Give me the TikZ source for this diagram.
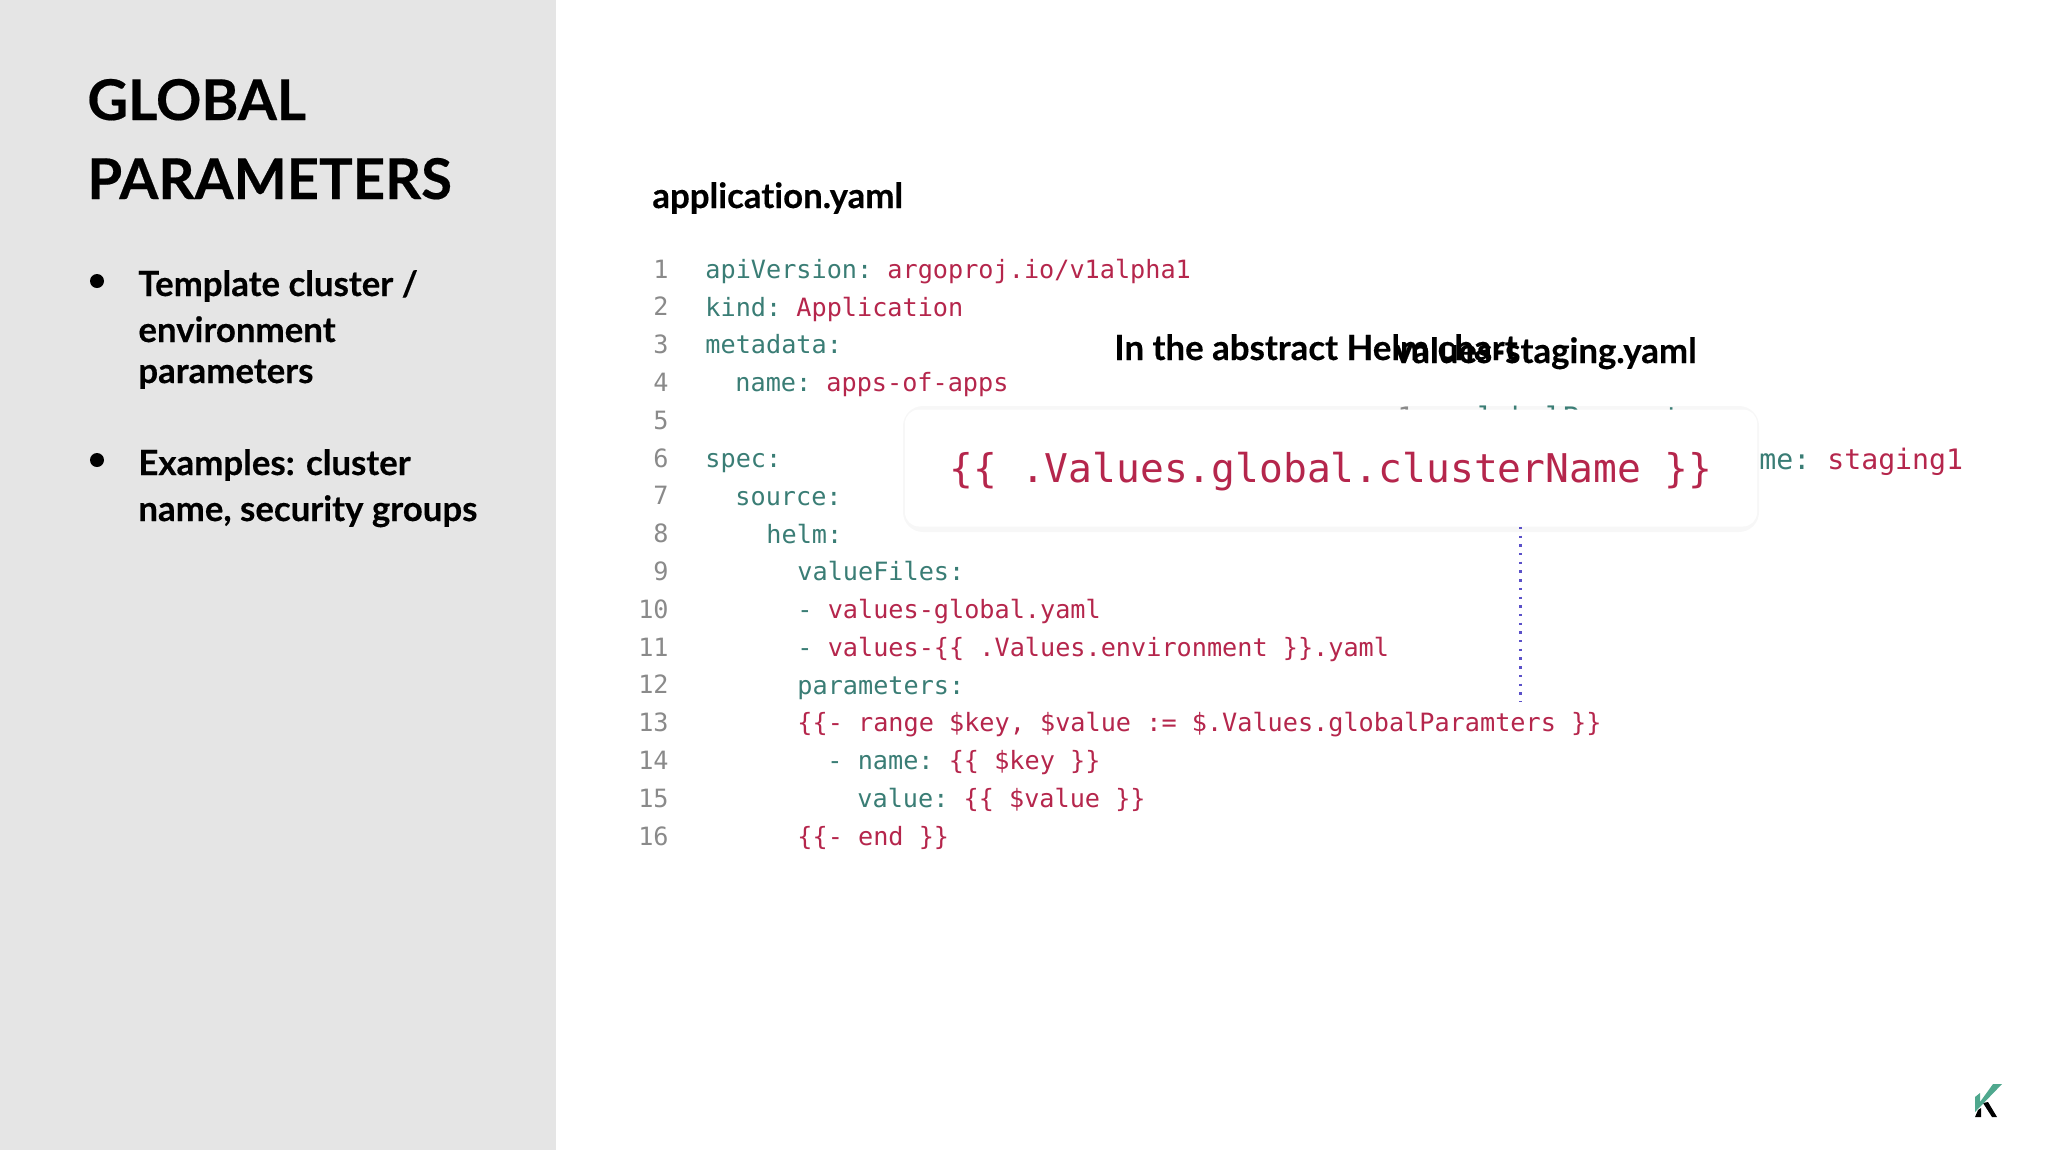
\documentclass[tikz,border=0pt]{standalone}
\usepackage{fontspec}
\setmainfont{Lato}[Ligatures=CommonOff, BoldFeatures={FakeBold=0.35}]
\setmonofont{DejaVu Sans Mono}
\usepackage{xcolor}
\definecolor{panelgrey}{HTML}{E5E5E5}
\definecolor{keyteal}{HTML}{3A7D75}
\definecolor{valred}{HTML}{B5264C}
\definecolor{numgrey}{HTML}{8A8A8A}
\definecolor{dotblue}{HTML}{5A50C8}
\definecolor{logoteal}{HTML}{4FA88E}
\newcommand{\yk}[1]{\textcolor{keyteal}{#1}}
\newcommand{\yv}[1]{\textcolor{valred}{#1}}
\tikzset{
	title/.style={anchor=base west, inner sep=0pt, font=\fontsize{28.1}{28.1}\selectfont\bfseries},
	bullettext/.style={anchor=base west, inner sep=0pt, font=\fontsize{17.4}{17.4}\selectfont\bfseries},
	heading/.style={anchor=base west, inner sep=0pt, font=\fontsize{17.4}{17.4}\selectfont\bfseries},
	codeline/.style={anchor=base west, inner sep=0pt, font=\fontsize{12.6}{12.6}\selectfont\ttfamily},
	stagingline/.style={anchor=base west, inner sep=0pt, font=\fontsize{14.1}{14.1}\selectfont\ttfamily},
	linenum/.style={anchor=base east, inner sep=0pt, text=numgrey, font=\fontsize{12.6}{12.6}\selectfont\ttfamily},
	dotmark/.style={circle, fill=black, inner sep=0pt, minimum size=7pt},
}
\begin{document}
\begin{tikzpicture}[x=0.5pt, y=-0.5pt]
		\useasboundingbox (0,0) rectangle (2048,1152);
		\fill[panelgrey] (0,0) rectangle (556,1150);
		
		\node[title] (title1) at (87,120) {GLOBAL};
		\node[title] (title2) at (87,199) {PARAMETERS};
		
		\node[dotmark] (dot1) at (97,281) {};
		\node[bullettext] (b1) at (138,296) {Template cluster /};
		\node[bullettext] (b2) at (138,342) {environment};
		\node[bullettext] (b3) at (138,383) {parameters};
		\node[dotmark] (dot2) at (97,460) {};
		\node[bullettext] (b4) at (138,475) {Examples: cluster};
		\node[bullettext] (b5) at (138,521) {name, security groups};
		
		\node[heading] (appfile) at (652,208) {application.yaml};
		
		% line numbers
		\foreach \n in {1,...,16}
			\node[linenum] (num\n) at (669,{278+(\n-1)*37.8}) {\n};
		
		\node[codeline] (line1) at (705,278) {\yk{apiVersion:} \yv{argoproj.io/v1alpha1}};
		\node[codeline] (line2) at (705,316) {\yk{kind:} \yv{Application}};
		\node[codeline] (line3) at (705,353) {\yk{metadata:}};
		\node[codeline] (line4) at (735,391) {\yk{name:} \yv{apps-of-apps}};
		\node[codeline] (line6) at (705,467) {\yk{spec:}};
		\node[codeline] (line7) at (735,505) {\yk{source:}};
		\node[codeline] (line8) at (766,543) {\yk{helm:}};
		\node[codeline] (line9) at (797,580) {\yk{valueFiles:}};
		\node[codeline] (line10) at (797,618) {\yk{-} \yv{values-global.yaml}};
		\node[codeline] (line11) at (797,656) {\yk{-} \yv{values-\{\{ .Values.environment \}\}.yaml}};
		\node[codeline] (line12) at (797,694) {\yk{parameters:}};
		\node[codeline] (line13) at (797,731) {\yv{\{\{- range \$key, \$value := \$.Values.globalParamters \}\}}};
		\node[codeline] (line14) at (827,769) {\yk{- name:} \yv{\{\{ \$key \}\}}};
		\node[codeline] (line15) at (857,807) {\yk{value:} \yv{\{\{ \$value \}\}}};
		\node[codeline] (line16) at (797,845) {\yv{\{\{- end \}\}}};
		
		\node[heading] (abstract) at (1114,360) {In the abstract Helm chart};
		\node[heading] (stagingfile) at (1394,363) {values-staging.yaml};
		\node[stagingline] (staging) at (1759,469) {\yk{me:} \yv{staging1}};
		
		% card
		\fill[black!3, rounded corners=10] (903,406) rectangle (1759,532);
		% tops of this line stick out above the card
		\node[stagingline, text=numgrey] (num1b) at (1397,427) {1};
		\node[stagingline, text=keyteal] (params) at (1460,427) {globalParameters:};
		\node[fill=white, rounded corners=7, minimum width=426pt, minimum height=58.5pt, inner sep=0pt] (card) at (1331,468) {};
		\node[inner sep=0pt, text=valred, font=\fontsize{19.8}{19.8}\selectfont\ttfamily] (cardtext) at (1331,472) {\{\{ .Values.global.clusterName \}\}};
		
		\coordinate (dotend) at (1520.5,702);
		\draw[dotblue, line width=1.2pt, dash pattern=on 1.2pt off 3.15pt] (card.south -| dotend) -- (dotend);
		
		% logo
		\fill[black] (1975,1117) -- (1978,1110) -- (1981,1108) -- (1981,1117) -- cycle;
		\fill[black] (1983,1103) -- (1988,1102) -- (1997,1117) -- (1992,1117) -- cycle;
		\fill[logoteal] (1975,1097) -- (1980,1093) -- (1980,1102) -- (1993,1084) -- (2002,1084) -- (1975,1112) -- cycle;
	\end{tikzpicture}
\end{document}
